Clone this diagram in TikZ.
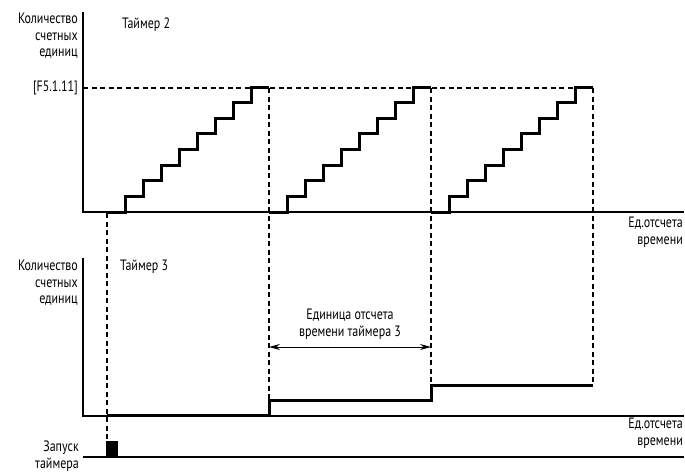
\documentclass[tikz,border=0pt]{standalone}
\usepackage{fontspec}
\setmainfont{PT Sans}[FakeStretch=0.8]
\usetikzlibrary{arrows.meta}
\begin{document}
\begin{tikzpicture}[x=1pt,y=-1pt,
  axis/.style={line width=1.4pt},
  sig/.style={line width=3pt, line join=miter},
  guide/.style={line width=1.6pt, dash pattern=on 5pt off 3.5pt},
  lbl/.style={font=\fontsize{15}{16.5}\selectfont, inner sep=0pt},
]
\useasboundingbox (0,0) rectangle (685,472);
% Timer 2 axes
\draw[axis] (83,12) -- (83,212) -- (684,212);
\draw[guide] (83,88) -- (593,88);
% staircases
\foreach \s in {107,269,431}{
  \draw[sig] (\s,212) foreach \i in {1,...,8} { -- ++(18,0) -- ++(0,-15.625) } -- ++(18,0);
}
% dashed verticals
\draw[guide] (107,213) -- (107,441);
\draw[guide] (269,88) -- (269,399);
\draw[guide] (431,88) -- (431,385);
\draw[guide] (593,88) -- (593,385);
% Timer 3 axes
\draw[axis] (83,258) -- (83,416) -- (684,416);
\draw[sig] (107,415) -- (269,415) -- (269,400) -- (431,400) -- (431,385) -- (593,385);
% start line
\draw[axis] (83,457) -- (684,457);
\fill (106,441) rectangle (118,457);
% arrow
\coordinate (ua) at (269,347);
\coordinate (ub) at (431,347);
\draw[line width=1pt, {Stealth[length=11pt,width=6pt]}-{Stealth[length=11pt,width=6pt]}] (ua) -- (ub);
% labels
\node[lbl, align=right, anchor=east] (ylab2) at (78,36) {Количество\\счетных\\единиц};
\node[lbl, anchor=west] (t2) at (122,25) {Таймер 2};
\node[lbl, anchor=east] (f511) at (78,88) {[F5.1.11]};
\node[lbl, align=right, anchor=east] (xlab2) at (683,232) {Ед.отсчета\\времени};
\node[lbl, align=right, anchor=east] (ylab3) at (78,283) {Количество\\счетных\\единиц};
\node[lbl, anchor=west] (t3) at (120,267) {Таймер 3};
\node[lbl, align=center] (unit) at (350,324) {Единица отсчета\\времени таймера 3};
\node[lbl, align=right, anchor=east] (xlab3) at (683,433) {Ед.отсчета\\времени};
\node[lbl, align=right, anchor=east] (start) at (79,456) {Запуск\\таймера};
\end{tikzpicture}
\end{document}
